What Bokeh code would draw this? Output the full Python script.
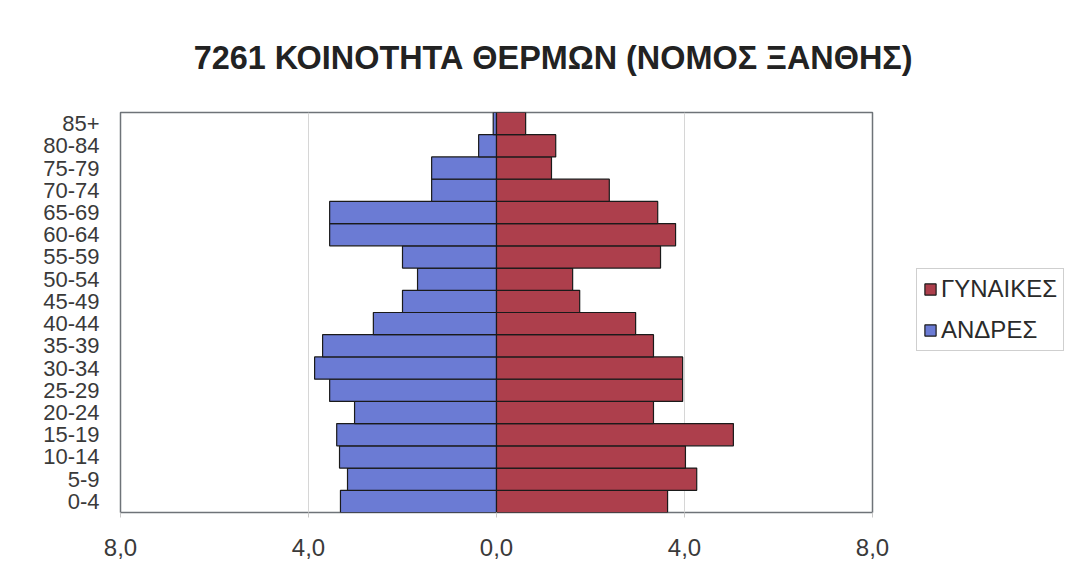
from bokeh.plotting import figure
from bokeh.models import FactorRange, Range1d, FixedTicker, Legend, LegendItem, Title
from bokeh.embed import file_html
from bokeh.resources import INLINE

title_text = "7261 ΚΟΙΝΟΤΗΤΑ ΘΕΡΜΩΝ (ΝΟΜΟΣ ΞΑΝΘΗΣ)"
age_groups = ["0-4", "5-9", "10-14", "15-19", "20-24", "25-29", "30-34", "35-39",
              "40-44", "45-49", "50-54", "55-59", "60-64", "65-69", "70-74",
              "75-79", "80-84", "85+"]
# percentages
men = [3.32, 3.17, 3.34, 3.40, 3.02, 3.55, 3.87, 3.70,
       2.62, 2.00, 1.68, 2.00, 3.55, 3.55, 1.38,
       1.38, 0.38, 0.07]
women = [3.64, 4.26, 4.02, 5.04, 3.34, 3.96, 3.96, 3.34,
         2.96, 1.77, 1.62, 3.49, 3.81, 3.43, 2.40,
         1.17, 1.26, 0.62]
men_label = "ΑΝΔΡΕΣ"
women_label = "ΓΥΝΑΙΚΕΣ"
x_ticks = [-8, -4, 0, 4, 8]
x_tick_labels = ["8,0", "4,0", "0,0", "4,0", "8,0"]

FONT = "Liberation Sans"
BLUE = "#6b7bd4"
RED = "#ad3f4c"

p = figure(frame_width=752, frame_height=400, output_backend="svg",
           toolbar_location=None,
           y_range=FactorRange(*age_groups, range_padding=0),
           x_range=Range1d(-8, 8))
p.min_border_left = 120
p.min_border_right = 205
p.min_border_top = 112
p.min_border_bottom = 72
p.background_fill_color = "white"
p.border_fill_color = "white"
p.outline_line_color = "#6e7378"
p.outline_line_width = 1.5

men_neg = [-v for v in men]
r_men = p.hbar(y=age_groups, left=men_neg, right=0, height=1.0,
               fill_color=BLUE, line_color="#1a1a1a", line_width=1.2)
r_women = p.hbar(y=age_groups, left=0, right=women, height=1.0,
                 fill_color=RED, line_color="#1a1a1a", line_width=1.2)

p.xaxis.ticker = FixedTicker(ticks=x_ticks)
p.xaxis.major_label_overrides = {t_: l for t_, l in zip(x_ticks, x_tick_labels)}
p.xaxis.major_label_text_font = FONT
p.xaxis.major_label_text_font_size = "24px"
p.xaxis.major_label_text_color = "#3a3a3a"
p.xaxis.axis_line_color = None
p.xaxis.major_tick_out = 5
p.xaxis.major_tick_in = 0
p.xaxis.major_tick_line_color = "#c8c8c8"
p.xaxis.minor_tick_line_color = None
p.xaxis.major_label_standoff = 21

p.yaxis.major_label_text_font = FONT
p.yaxis.major_label_text_font_size = "22px"
p.yaxis.major_label_text_color = "#3a3a3a"
p.yaxis.axis_line_color = None
p.yaxis.major_tick_line_color = None
p.yaxis.minor_tick_line_color = None
p.yaxis.major_tick_out = 0
p.yaxis.major_tick_in = 0
p.yaxis.major_label_standoff = 21

p.ygrid.grid_line_color = None
p.xgrid.grid_line_color = "#d6d6d6"
p.xgrid.grid_line_width = 1

p.add_layout(Title(text=title_text, align="right", offset=-40, standoff=74,
                   text_font=FONT, text_font_style="bold", text_font_size="32.4px",
                   text_color="#222222"), "above")

legend = Legend(items=[LegendItem(label=women_label, renderers=[r_women]),
                       LegendItem(label=men_label, renderers=[r_men])],
                location=(44, 161))
legend.label_text_font = FONT
legend.label_text_font_size = "24px"
legend.label_text_color = "#2a2a2a"
legend.glyph_width = 14
legend.glyph_height = 14
legend.spacing = 13
legend.padding = 6
legend.margin = 0
legend.label_standoff = 4
legend.label_height = 24
legend.border_line_color = "#a0a0a0"
legend.border_line_width = 1
legend.background_fill_color = "white"
p.add_layout(legend, "right")

open("out.html", "w").write(file_html(p, INLINE))
